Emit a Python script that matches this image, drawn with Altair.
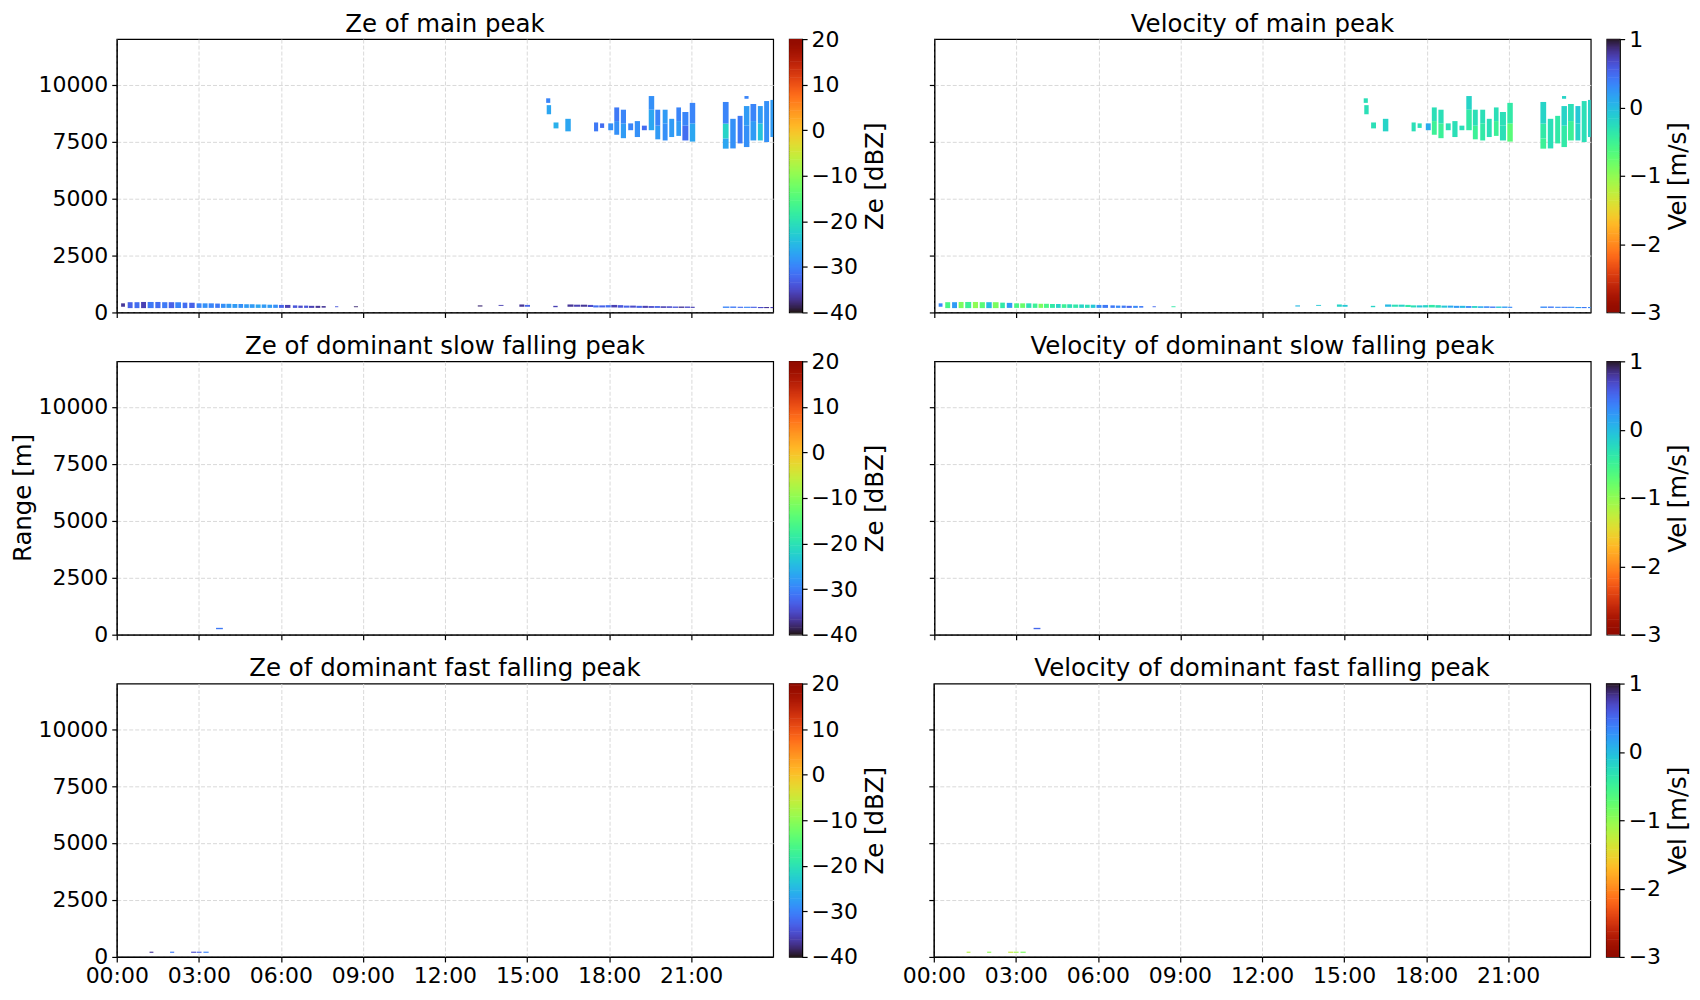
import altair as alt
import pandas as pd

# ---------------- data: main peak cells (hours, range m, Ze dBZ, Vel m/s) ----------------
main_t0 = [0.16, 0.40, 0.65, 0.89, 1.13, 1.41, 1.66, 1.90, 2.14, 2.41, 2.65, 2.92, 3.14, 3.36,
           3.60, 3.81, 4.01, 4.23, 4.45, 4.66, 4.86, 5.08, 5.30, 5.51, 5.72, 5.93, 6.15, 6.44,
           6.64, 6.85, 7.03, 7.27, 7.49, 7.98, 8.67,
           13.20, 13.96, 14.72, 14.92, 15.96, 16.48, 16.72, 16.97, 17.22, 17.42, 17.64, 17.87,
           18.08, 18.32, 18.54, 18.77, 19.00, 19.22, 19.44, 19.66, 19.88, 20.10, 20.32, 20.54,
           20.76, 20.98, 22.16, 22.43, 22.70, 22.93, 23.17, 23.44, 23.67, 23.90,
           15.70, 15.72, 15.97, 16.40, 17.45, 17.67, 17.97, 18.19, 18.19, 18.43, 18.43, 18.70,
           18.94, 19.20, 19.45, 19.45, 19.69, 19.69, 19.96, 19.96, 20.20, 20.46, 20.46, 20.68,
           20.68, 20.95, 20.95, 22.16, 22.16, 22.16, 22.43, 22.70, 22.93, 22.93, 22.95, 23.17,
           23.17, 23.44, 23.44, 23.67, 23.90]
main_t1 = [0.30, 0.58, 0.83, 1.07, 1.35, 1.60, 1.85, 2.10, 2.35, 2.58, 2.85, 3.10, 3.32, 3.55,
           3.77, 3.98, 4.19, 4.41, 4.62, 4.83, 5.04, 5.26, 5.47, 5.68, 5.89, 6.11, 6.35, 6.60,
           6.80, 7.00, 7.22, 7.44, 7.64, 8.10, 8.82,
           13.37, 14.14, 14.90, 15.11, 16.12, 16.70, 16.95, 17.20, 17.42, 17.62, 17.85, 18.06,
           18.30, 18.52, 18.75, 18.98, 19.20, 19.42, 19.64, 19.86, 20.08, 20.30, 20.52, 20.74,
           20.96, 21.13, 22.40, 22.65, 22.90, 23.16, 23.40, 23.65, 23.85, 24.00,
           15.85, 15.88, 16.15, 16.60, 17.60, 17.82, 18.15, 18.37, 18.37, 18.62, 18.62, 18.88,
           19.13, 19.38, 19.65, 19.65, 19.87, 19.87, 20.14, 20.14, 20.38, 20.63, 20.63, 20.90,
           20.90, 21.15, 21.15, 22.37, 22.37, 22.37, 22.63, 22.88, 23.13, 23.13, 23.10, 23.38,
           23.38, 23.62, 23.62, 23.85, 24.00]
main_r0 = [250, 190, 190, 190, 190, 190, 190, 190, 190, 190, 200, 200, 200, 200,
           200, 200, 200, 200, 200, 200, 200, 200, 200, 200, 200, 200, 200, 200,
           200, 200, 200, 200, 210, 230, 230,
           260, 290, 250, 250, 230, 250, 250, 250, 240, 220, 220, 220,
           220, 210, 210, 210, 200, 200, 200, 200, 200, 200, 200, 200,
           200, 200, 200, 200, 200, 200, 200, 190, 190, 190,
           9200, 8700, 8080, 7950, 7950, 8100, 8000, 7800, 8400, 7650, 8300, 8000,
           7700, 8000, 8000, 8900, 7600, 8200, 7550, 8300, 7700, 7750, 8400, 7550,
           8200, 7500, 8300, 7190, 7640, 8290, 7200, 7420, 7260, 8200, 9380, 7550,
           8400, 7550, 8300, 7480, 7700]
main_r1 = [400, 450, 450, 460, 460, 460, 450, 450, 450, 430, 420, 400, 400, 400,
           390, 380, 380, 370, 370, 360, 360, 350, 350, 340, 340, 330, 330, 310,
           300, 300, 290, 290, 280, 270, 270,
           310, 330, 350, 330, 290, 350, 340, 340, 330, 310, 310, 320,
           330, 320, 300, 300, 290, 290, 280, 280, 270, 270, 260, 260,
           260, 250, 260, 260, 250, 250, 250, 240, 240, 240,
           9400, 9100, 8340, 8500, 8340, 8300, 8300, 8400, 9000, 8300, 8900, 8300,
           8400, 8200, 8900, 9500, 8200, 8900, 8300, 8900, 8500, 8400, 9000, 8200,
           8800, 8300, 9200, 7640, 8290, 9240, 8500, 8630, 8200, 9060, 9500, 8400,
           9150, 8300, 9060, 9280, 9330]
main_ze = [-37, -33, -32, -36, -31, -32, -31, -33, -30, -32, -33, -30, -29, -30,
           -31, -29, -28, -28, -29, -28, -28, -27, -28, -28, -29, -33, -36, -34,
           -35, -34, -36, -37, -37, -34, -38,
           -38, -36, -37, -33, -36, -37, -36, -37, -35, -32, -33, -32,
           -36, -34, -33, -35, -33, -36, -35, -33, -36, -35, -34, -37,
           -35, -36, -30, -31, -32, -30, -33, -35, -37, -36,
           -30, -27, -26, -27, -31, -32, -29, -29, -31, -28, -30, -30,
           -29, -32, -27, -29, -28, -30, -29, -28, -28, -28, -30, -32,
           -30, -27, -30, -27, -22, -30, -29, -31, -29, -28, -30, -28,
           -30, -24, -28, -29, -28]
main_vel = [0.3, -0.6, 0.2, -0.9, -0.5, -1.0, -0.7, 0.0, -0.9, -0.4, 0.2, -0.6, -0.8, -0.3,
            -0.5, -0.9, -0.6, -0.4, -0.2, -0.5, -0.3, -0.4, -0.2, -0.3, -0.1, 0.3, 0.4, 0.4,
            0.3, 0.4, 0.5, 0.3, 0.4, 0.5, -0.4,
            0.0, -0.1, -0.2, -0.1, -0.2, 0.0, -0.3, -0.2, -0.4, -0.3, -0.1, -0.2,
            -0.4, -0.3, -0.1, 0.1, 0.2, 0.0, 0.3, -0.2, 0.1, 0.3, 0.4, -0.1,
            0.2, 0.3, 0.3, 0.4, 0.3, 0.4, 0.3, 0.2, 0.4, 0.3,
            -0.3, -0.3, -0.3, -0.2, -0.3, -0.3, 0.1, -0.5, -0.3, -0.5, -0.3, -0.3,
            -0.3, -0.3, -0.4, -0.2, -0.5, -0.3, -0.4, -0.3, -0.3, -0.5, -0.3, -0.3,
            -0.3, -0.7, -0.4, -0.5, -0.4, -0.2, -0.3, -0.4, -0.4, -0.2, -0.2, -0.5,
            -0.3, -0.2, -0.1, -0.3, -0.2]

# dominant slow falling peak
slow_t0 = [3.63]
slow_t1 = [3.88]
slow_r0 = [240]
slow_r1 = [300]
slow_ze = [-31]
slow_vel = [0.5]

# dominant fast falling peak
fast_t0 = [1.20, 1.95, 2.72, 2.92, 3.17]
fast_t1 = [1.34, 2.10, 2.90, 3.10, 3.36]
fast_r0 = [180, 180, 180, 180, 180]
fast_r1 = [230, 230, 230, 230, 230]
fast_ze = [-37, -31, -35, -33, -30]
fast_vel = [-1.2, -1.0, -1.3, -1.1, -0.9]

main = pd.DataFrame(dict(t0=main_t0, t1=main_t1, r0=main_r0, r1=main_r1, ze=main_ze, vel=main_vel))
slow = pd.DataFrame(dict(t0=slow_t0, t1=slow_t1, r0=slow_r0, r1=slow_r1, ze=slow_ze, vel=slow_vel))
fast = pd.DataFrame(dict(t0=fast_t0, t1=fast_t1, r0=fast_r0, r1=fast_r1, ze=fast_ze, vel=fast_vel))

x_ticks = [0, 3, 6, 9, 12, 15, 18, 21]
y_ticks = [0, 2500, 5000, 7500, 10000]
ze_ticks = [-40, -30, -20, -10, 0, 10, 20]
vel_ticks = [-3, -2, -1, 0, 1]

W, H = 658, 274
CBW = 13
SPW = 27
FONT = "DejaVu Sans"
NSTEP = 240
BIG = 24.5


def cscale(field):
    if field == "ze":
        return alt.Scale(scheme="turbo", domain=[-40, 20])
    return alt.Scale(scheme="turbo", domain=[-3, 1], reverse=True)


def panel(df, field, title, show_x, left):
    x = alt.X("t0:Q", scale=alt.Scale(domain=[0, 24], nice=False, zero=False),
              axis=alt.Axis(values=x_ticks, labels=show_x, title=None,
                            labelExpr="(datum.value < 10 ? '0' : '') + datum.value + ':00'"))
    if left:
        yax = alt.Axis(values=y_ticks, format="d", title=None)
    else:
        yax = alt.Axis(values=y_ticks, labels=False, title=None)
    y = alt.Y("r0:Q", scale=alt.Scale(domain=[0, 12000], nice=False), axis=yax)
    return alt.Chart(df).mark_rect().encode(
        x=x, x2="t1:Q", y=y, y2="r1:Q",
        color=alt.Color(f"{field}:Q", scale=cscale(field), legend=None),
    ).properties(width=W, height=H, title=title)


def ylabel(text):
    df = pd.DataFrame({"label": [text] if text else []}, dtype=object)
    return alt.Chart(df).mark_text(
        angle=270, fontSize=BIG, font=FONT, color="black", align="center", baseline="middle"
    ).encode(text="label:N", x=alt.value(14.6), y=alt.value(H / 2)).properties(
        width=SPW, height=H, view=alt.ViewBackground(stroke="transparent"))


def colorbar(field):
    if field == "ze":
        lo, hi, ticks, title = -40, 20, ze_ticks, "Ze [dBZ]"
    else:
        lo, hi, ticks, title = -3, 1, vel_ticks, "Vel [m/s]"
    step = (hi - lo) / NSTEP
    return alt.Chart(alt.sequence(0, NSTEP, 1, as_="i")).transform_calculate(
        v=f"{lo} + datum.i * {step}", v2=f"{lo} + (datum.i + 1.6) * {step}"
    ).mark_rect(clip=True).encode(
        x=alt.value(0), x2=alt.value(CBW),
        y=alt.Y("v:Q", scale=alt.Scale(domain=[lo, hi], nice=False, zero=False),
                axis=alt.Axis(orient="right", values=ticks, format="d", title=title,
                              titleAngle=270, titleBaseline="top", grid=False,
                              labelPadding=4, titlePadding=6)),
        y2="v2:Q",
        color=alt.Color("v:Q", scale=cscale(field), legend=None),
    ).properties(width=CBW, height=H)


rows = [
    (main, "Ze of main peak", "Velocity of main peak", False, "", 39.5),
    (slow, "Ze of dominant slow falling peak", "Velocity of dominant slow falling peak", False, "Range [m]", 39.5),
    (fast, "Ze of dominant fast falling peak", "Velocity of dominant fast falling peak", True, "", 13),
]

hrows = []
for df, t_ze, t_vel, show_x, ylab, gap in rows:
    a_in = alt.hconcat(panel(df, "ze", t_ze, show_x, True), colorbar("ze"),
                       spacing=14).resolve_scale(color="independent", y="independent")
    a = alt.hconcat(ylabel(ylab), a_in, spacing=0).resolve_scale(color="independent", y="independent")
    b = alt.hconcat(panel(df, "vel", t_vel, show_x, False), colorbar("vel"),
                    spacing=14).resolve_scale(color="independent", y="independent")
    hrows.append(alt.hconcat(a, b, spacing=gap)
                 .resolve_scale(color="independent", y="independent"))

chart = alt.vconcat(*hrows, spacing=8).resolve_scale(
    color="independent").properties(
    padding={"left": 0, "top": 1, "right": 0, "bottom": 0}
).configure_view(stroke="black", strokeWidth=1.2).configure_axis(
    labelFont=FONT, labelFontSize=22, labelColor="black",
    titleFont=FONT, titleFontSize=BIG, titleFontWeight="normal", titlePadding=10,
    titleColor="black",
    tickColor="black", tickSize=5, tickWidth=1.2, domainColor="black", domainWidth=1.2,
    labelPadding=4, labelFlush=False, labelOverlap=False,
    grid=True, gridColor="#d9d9d9", gridDash=[4, 2], gridWidth=1,
).configure_title(
    font=FONT, fontSize=BIG, fontWeight="normal", color="black", offset=2, anchor="middle"
)

chart.save("out.html", embed_options={"renderer": "svg", "actions": False})
